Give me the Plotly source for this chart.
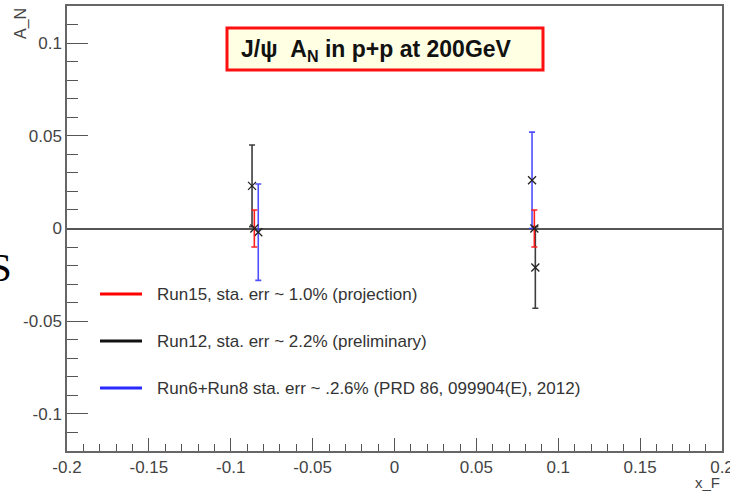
import plotly.graph_objects as go

# Transverse single-spin asymmetry A_N of J/psi vs x_F
run15_x = [-0.0856, 0.0854]
run15_y = [0.0, 0.0]
run15_err = [0.010, 0.010]

run12_x = [-0.0870, 0.0860]
run12_y = [0.023, -0.021]
run12_err = [0.022, 0.022]

run68_x = [-0.0832, 0.0840]
run68_y = [-0.002, 0.026]
run68_err = [0.026, 0.026]

x_tickvals = [-0.2, -0.15, -0.1, -0.05, 0, 0.05, 0.1, 0.15, 0.2]
x_ticktext = ["-0.2", "-0.15", "-0.1", "-0.05", "0", "0.05", "0.1", "0.15", "0.2"]
y_tickvals = [-0.1, -0.05, 0, 0.05, 0.1]
y_ticktext = ["-0.1", "-0.05", "0", "0.05", "0.1"]

legend_labels = [
    "Run15, sta. err ~ 1.0% (projection)",
    "Run12, sta. err ~ 2.2% (preliminary)",
    "Run6+Run8 sta. err ~ .2.6% (PRD 86, 099904(E), 2012)",
]
legend_colors = ["#ff0000", "#111111", "#2a2aff"]

W, H = 730, 492
L, R, T, B = 67, 8, 6, 41
PW, PH = W - L - R, H - T - B


def px(x):
    return (x - L) / PW


def py(y):
    return (H - B - y) / PH


fig = go.Figure()

series = [
    (run68_x, run68_y, run68_err, "rgba(60,60,255,0.9)"),
    (run12_x, run12_y, run12_err, "rgba(40,40,40,0.9)"),
    (run15_x, run15_y, run15_err, "rgba(255,20,20,0.95)"),
]
for xs, ys, es, col in series:
    fig.add_trace(go.Scatter(
        x=xs, y=ys, mode="markers",
        error_y=dict(type="data", array=es, visible=True, color=col,
                     thickness=1.6, width=3),
        marker=dict(symbol="x-thin", size=8, color="#222222",
                    line=dict(width=1.3, color="#222222")),
        showlegend=False, hoverinfo="skip",
    ))

axis_common = dict(
    showline=True, linecolor="#666666", linewidth=1.5, mirror=True,
    showgrid=False, ticks="inside", tickcolor="#555555", tickwidth=1.3,
    ticklabeloverflow="allow", automargin=False,
    tickfont=dict(family="Arial, Liberation Sans", size=17, color="#444444"),
)

fig.update_xaxes(
    range=[-0.2, 0.2], tickvals=x_tickvals, ticktext=x_ticktext,
    ticklen=13, zeroline=False,
    minor=dict(dtick=0.01, ticks="inside", ticklen=7, tickcolor="#555555",
               tickwidth=1.2, showgrid=False),
    **axis_common,
)
fig.update_yaxes(
    range=[-0.12, 0.12], tickvals=y_tickvals, ticktext=y_ticktext,
    ticklen=21, zeroline=True, zerolinecolor="#555555", zerolinewidth=1.6,
    minor=dict(dtick=0.01, ticks="inside", ticklen=11, tickcolor="#555555",
               tickwidth=1.2, showgrid=False),
    **axis_common,
)

shapes = [
    # title box
    dict(type="rect", xref="paper", yref="paper",
         x0=px(227), x1=px(543), y0=py(70), y1=py(28),
         line=dict(color="#ff1010", width=3), fillcolor="#ffffe4", layer="above"),
]
annotations = [
    dict(text="<b>J/ψ  A<sub>N</sub> in p+p at 200GeV</b>", xref="paper", yref="paper",
         x=px(239), y=py(50), xanchor="left", yanchor="middle", showarrow=False,
         font=dict(family="Arial, Liberation Sans", size=23, color="#111111")),
    dict(text="A_N", xref="paper", yref="paper", x=px(21), y=py(24),
         xanchor="center", yanchor="middle", textangle=-90, showarrow=False,
         font=dict(family="Arial, Liberation Sans", size=16, color="#444444")),
    dict(text="x_F", xref="paper", yref="paper", x=px(707), y=py(483),
         xanchor="center", yanchor="middle", showarrow=False, borderpad=0,
         font=dict(family="Arial, Liberation Sans", size=15, color="#444444")),
    dict(text="S", xref="paper", yref="paper", x=px(13), y=py(267),
         xanchor="right", yanchor="middle", showarrow=False, borderpad=0,
         font=dict(family="Liberation Serif, Times New Roman", size=41, color="#000000")),
]

legend_rows = [294, 341, 388]
for lab, col, yy in zip(legend_labels, legend_colors, legend_rows):
    shapes.append(dict(type="line", xref="paper", yref="paper",
                       x0=px(100), x1=px(142), y0=py(yy), y1=py(yy),
                       line=dict(color=col, width=3)))
    annotations.append(dict(text=lab, xref="paper", yref="paper",
                            x=px(155), y=py(yy), xanchor="left", yanchor="middle",
                            showarrow=False,
                            font=dict(family="Arial, Liberation Sans", size=17,
                                      color="#333333")))

fig.update_layout(
    width=W, height=H,
    margin=dict(l=L, r=R, t=T, b=B),
    paper_bgcolor="white", plot_bgcolor="white",
    shapes=shapes, annotations=annotations,
    showlegend=False,
)

fig.write_html("out.html")
